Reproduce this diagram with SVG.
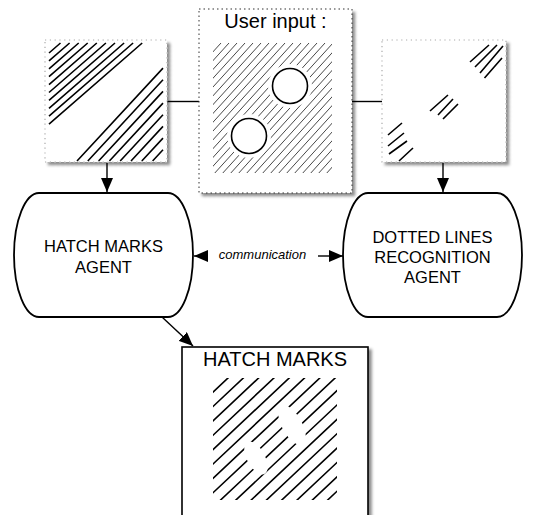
<svg xmlns="http://www.w3.org/2000/svg" width="537" height="515" viewBox="0 0 537 515">
  <style>
    .label { font-family: "Liberation Sans", Arial, Helvetica, sans-serif; fill: #000; text-anchor: middle; }
    .thumb { fill: #fff; stroke: #aaa; stroke-width: 1.2; stroke-dasharray: 1.2 3.6; }
    .input { fill: #fff; stroke: #333; stroke-width: 1; stroke-dasharray: 1.5 3; }
    .result { fill: #fff; stroke: #000; stroke-width: 1.6; }
    .agent { fill: #fff; stroke: #000; stroke-width: 1.8; }
    .hatch { fill: none; stroke: #000; stroke-width: 1.6; }
    .fine { fill: none; stroke: #333; stroke-width: 0.9; }
    .edge { fill: none; stroke: #000; stroke-width: 1.4; }
  </style>
  <defs>
    <filter id="shadow" x="-10%" y="-10%" width="125%" height="125%">
      <feGaussianBlur in="SourceAlpha" stdDeviation="1.4"/>
      <feOffset dx="3" dy="3" result="blur"/>
      <feFlood flood-color="#000" flood-opacity="0.45"/>
      <feComposite in2="blur" operator="in"/>
      <feMerge>
        <feMergeNode/>
        <feMergeNode in="SourceGraphic"/>
      </feMerge>
    </filter>
    <marker id="arrow" viewBox="0 0 14 12" refX="14" refY="6" markerWidth="14" markerHeight="12" markerUnits="userSpaceOnUse" orient="auto">
      <path d="M0,0 L14,6 L0,12 z" fill="#000"/>
    </marker>
    <clipPath id="inputArea">
      <rect x="213" y="43" width="119" height="130"/>
    </clipPath>
    <mask id="circleHoles">
      <rect x="199" y="9" width="153" height="184" fill="#fff"/>
      <circle cx="290" cy="86" r="22" fill="#000"/>
      <circle cx="249" cy="136" r="22" fill="#000"/>
    </mask>
    <clipPath id="resultArea">
      <rect x="213" y="378" width="124" height="122"/>
    </clipPath>
    <mask id="resultGaps">
      <rect x="182" y="347" width="186" height="168" fill="#fff"/>
      <ellipse cx="292" cy="425" rx="22" ry="10" transform="rotate(61 292 425)" fill="#000"/>
      <ellipse cx="256" cy="458" rx="18" ry="9" transform="rotate(61 256 458)" fill="#000"/>
    </mask>
  </defs>

  <!-- connectors -->
  <g id="connectors">
    <line class="edge" x1="167" y1="101.5" x2="199" y2="101.5"/>
    <line class="edge" x1="352" y1="101.5" x2="382" y2="101.5"/>
    <line class="edge" x1="107" y1="163" x2="107" y2="192" marker-end="url(#arrow)"/>
    <line class="edge" x1="443" y1="163" x2="443" y2="192" marker-end="url(#arrow)"/>
    <line class="edge" x1="162" y1="317" x2="193" y2="346" marker-end="url(#arrow)"/>
    <line class="edge" x1="208" y1="256" x2="194" y2="256" marker-end="url(#arrow)"/>
    <line class="edge" x1="318" y1="256" x2="343" y2="256" marker-end="url(#arrow)"/>
    <text class="label" x="262.5" y="259" font-size="13" font-style="italic">communication</text>
  </g>

  <!-- hatch marks found in the input -->
  <g id="hatch-thumb">
    <rect class="thumb" x="45" y="40" width="122" height="122" filter="url(#shadow)"/>
    <path class="hatch" d="M49 53L60.5 43M49 60.9L69.6 43M49 68.8L78.7 43M49 76.7L87.7 43M49 84.6L96.8 43M49 92.5L105.9 43M49 100.4L115 43M49 108.3L124.1 43M49 116.2L133.1 43M49 124.1L142.2 43"/>
    <path class="hatch" d="M77 161L163 68.1M87.8 161L163 79.8M98.6 161L163 91.4M109.4 161L163 103.1M120.2 161L163 114.7M131 161L163 126.4M141.8 161L163 138.1M152.6 161L163 149.7"/>
  </g>

  <!-- the user's drawing -->
  <g id="user-input">
    <rect class="input" x="199" y="9" width="153" height="184" filter="url(#shadow)"/>
    <text class="label" x="275.5" y="28" font-size="20">User input :</text>
    <g clip-path="url(#inputArea)" mask="url(#circleHoles)">
      <path class="fine" d="M223 32L83 186M231 32L91 186M239 32L99 186M247 32L107 186M255 32L115 186M263 32L123 186M271 32L131 186M279 32L139 186M287 32L147 186M295 32L155 186M303 32L163 186M311 32L171 186M319 32L179 186M327 32L187 186M335 32L195 186M343 32L203 186M351 32L211 186M359 32L219 186M367 32L227 186M375 32L235 186M383 32L243 186M391 32L251 186M399 32L259 186M407 32L267 186M415 32L275 186M423 32L283 186M431 32L291 186M439 32L299 186M447 32L307 186M455 32L315 186M463 32L323 186"/>
    </g>
    <circle cx="290" cy="86" r="17.5" fill="#fff" stroke="#000" stroke-width="1.6"/>
    <circle cx="249" cy="136" r="17.5" fill="#fff" stroke="#000" stroke-width="1.6"/>
  </g>

  <!-- dotted line pieces found in the input -->
  <g id="dotted-thumb">
    <rect class="thumb" x="382" y="40" width="124" height="122" filter="url(#shadow)"/>
    <path class="hatch" d="M470 62L489 45M475 67L497 45M480 73L503 46M484.5 78L502 58"/>
    <path class="hatch" d="M430 111L448 95M438 115L453 99M443 119L458 104"/>
    <path class="hatch" d="M388 135L402 123M388 146L404 133M389 154L407 141M399 161L413 148"/>
  </g>

  <g id="hatch-agent">
    <rect class="agent" x="14" y="193" width="179" height="124" rx="25" ry="62"/>
    <text class="label" x="103.5" y="252" font-size="16.5">HATCH MARKS</text>
    <text class="label" x="103.5" y="273" font-size="16.5">AGENT</text>
  </g>

  <g id="dotted-agent">
    <rect class="agent" x="343" y="193" width="179" height="124" rx="25" ry="62"/>
    <text class="label" x="432.5" y="243" font-size="16.5">DOTTED LINES</text>
    <text class="label" x="432.5" y="263" font-size="16.5">RECOGNITION</text>
    <text class="label" x="432.5" y="283" font-size="16.5">AGENT</text>
  </g>

  <!-- completed hatching -->
  <g id="hatch-result">
    <rect class="result" x="182" y="347" width="186" height="185" filter="url(#shadow)"/>
    <text class="label" x="275" y="366" font-size="20">HATCH MARKS</text>
    <g clip-path="url(#resultArea)" mask="url(#resultGaps)">
      <path class="hatch" d="M233 373.3L93 504.9M248.3 373.3L108.3 504.9M263.6 373.3L123.6 504.9M278.9 373.3L138.9 504.9M294.2 373.3L154.2 504.9M309.5 373.3L169.5 504.9M324.8 373.3L184.8 504.9M340.1 373.3L200.1 504.9M355.4 373.3L215.4 504.9M370.7 373.3L230.7 504.9M386 373.3L246 504.9M401.3 373.3L261.3 504.9M416.6 373.3L276.6 504.9M431.9 373.3L291.9 504.9M447.2 373.3L307.2 504.9M462.5 373.3L322.5 504.9"/>
    </g>
  </g>
</svg>
